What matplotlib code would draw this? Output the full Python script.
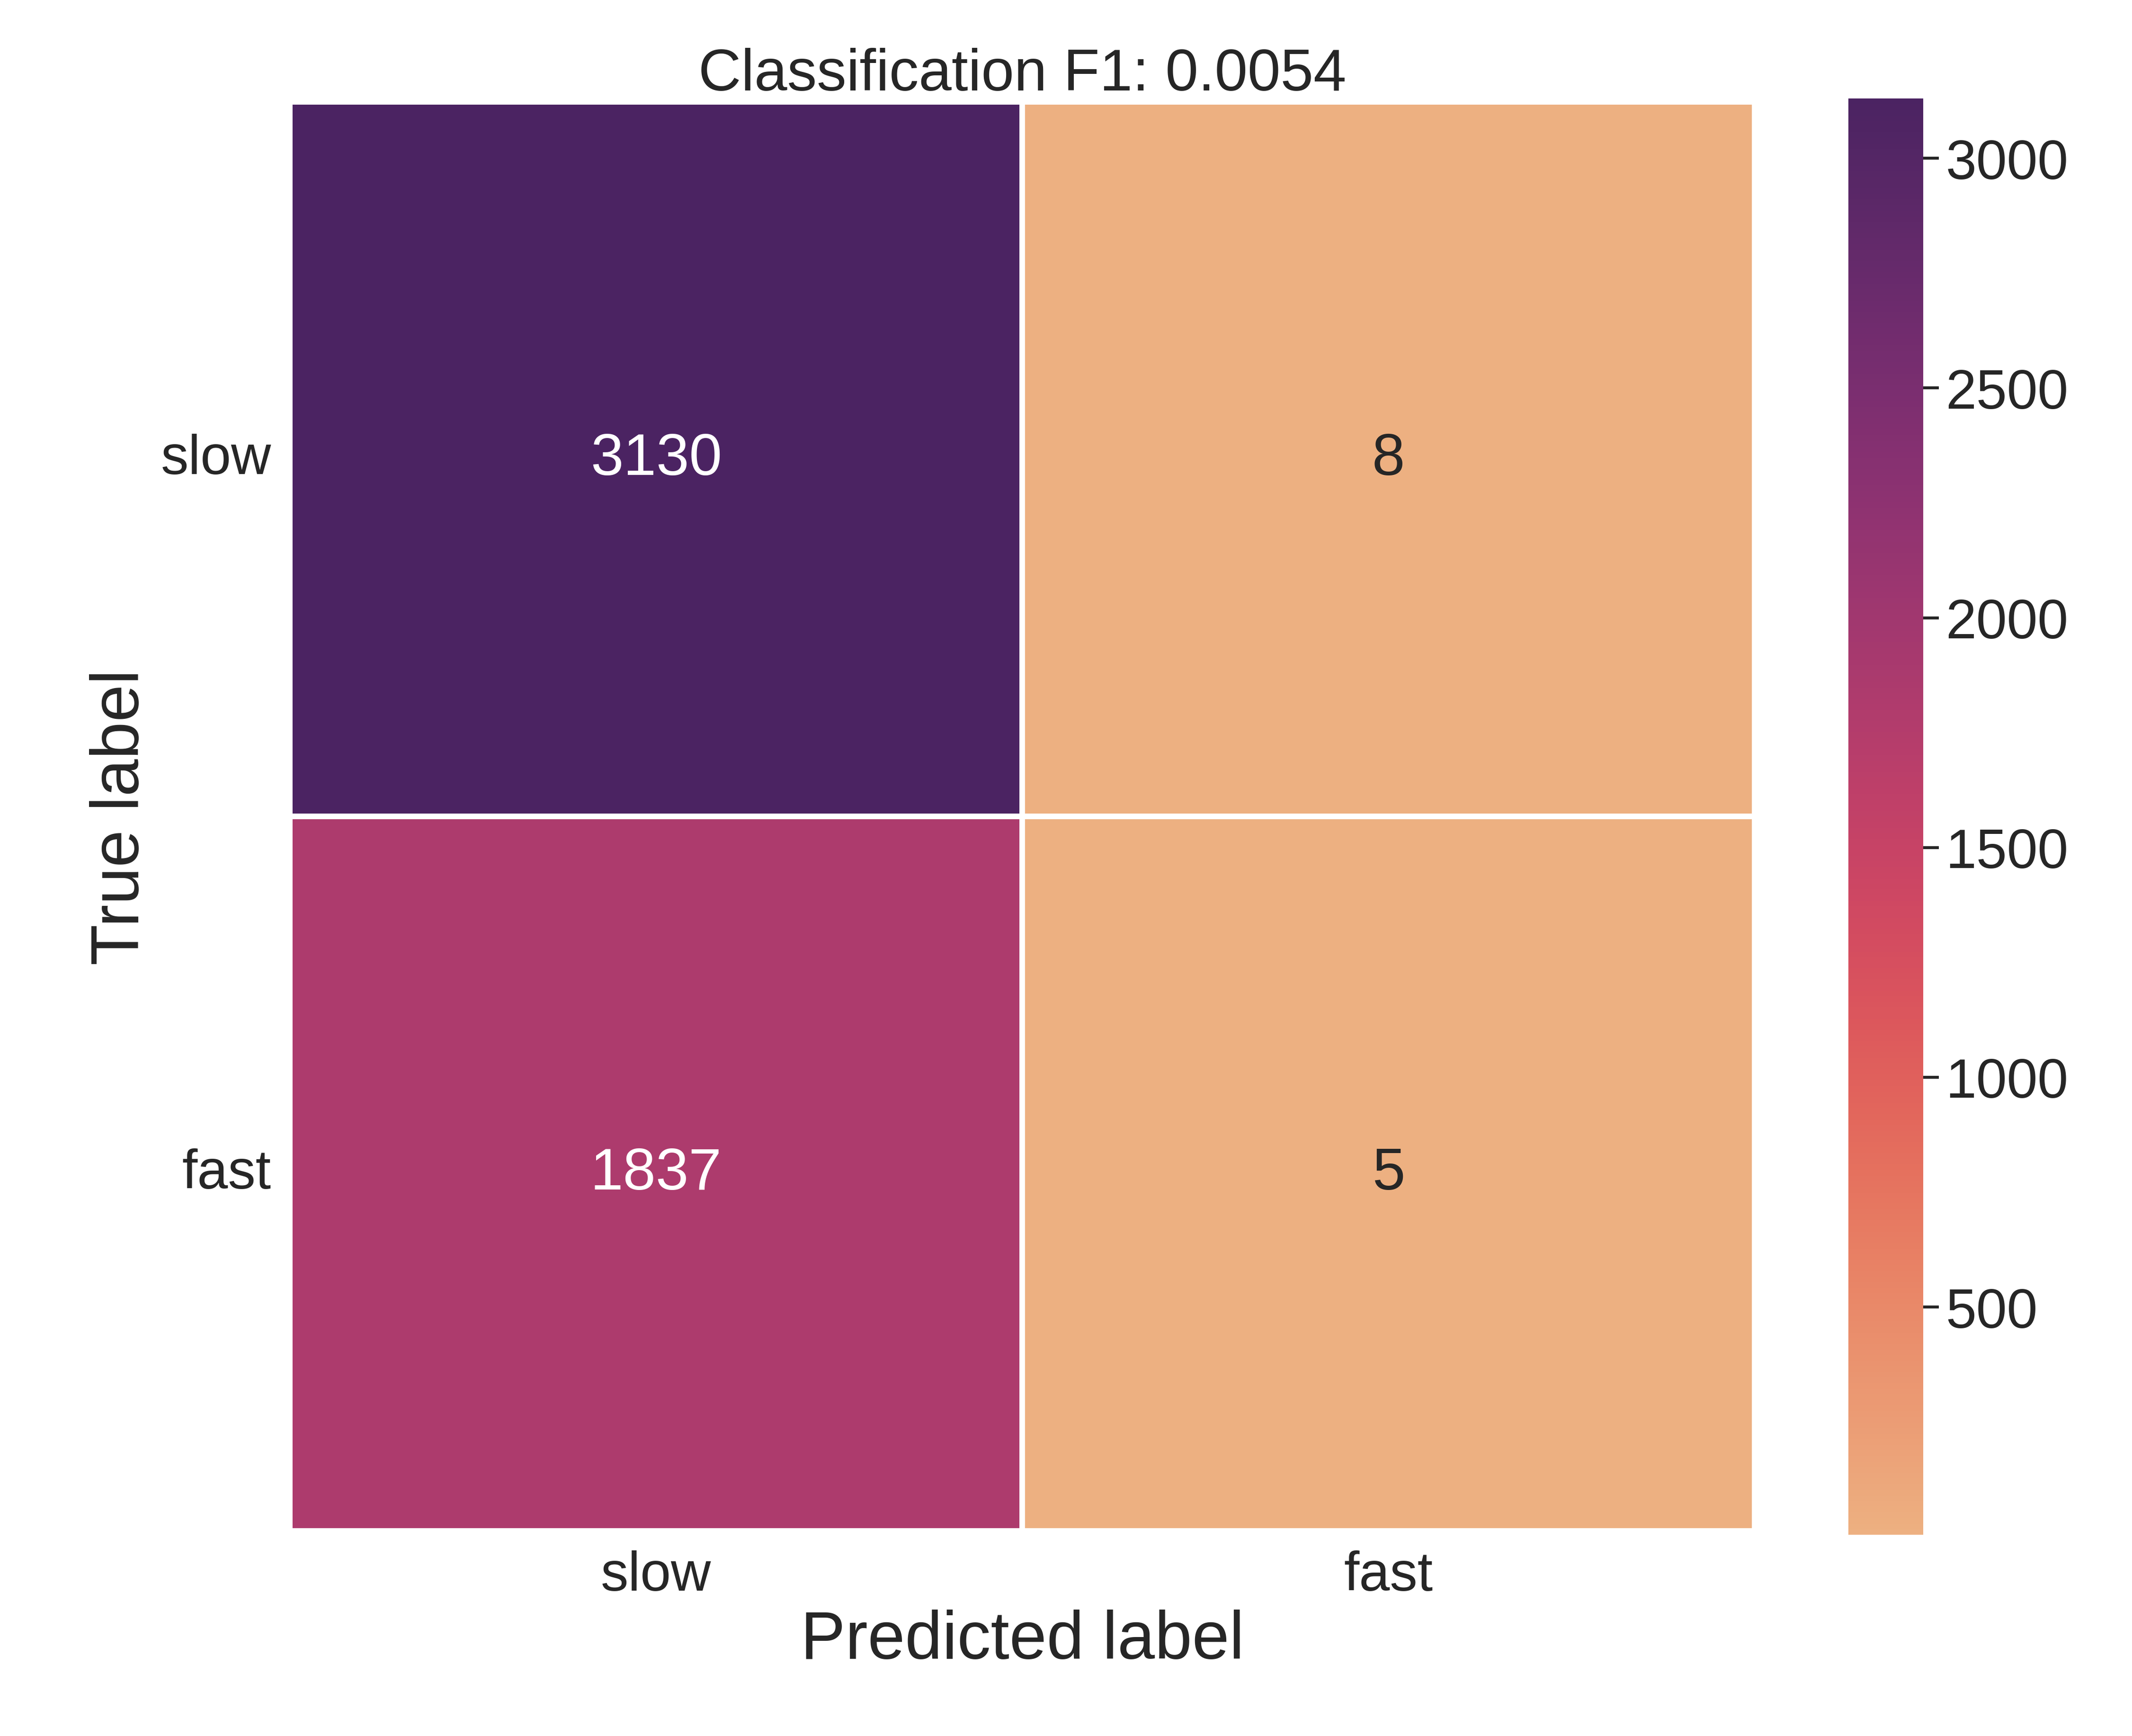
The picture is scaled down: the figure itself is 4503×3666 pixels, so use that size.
import numpy as np
import matplotlib
matplotlib.use("Agg")
import matplotlib.pyplot as plt
import seaborn as sns

labels = ["slow", "fast"]
counts = [[3130, 8],
          [1837, 5]]
f1 = 0.0054

sns.set_theme(style="white")
plt.rcParams['font.family'] = ['Liberation Sans', 'DejaVu Sans']

fig = plt.figure(figsize=(15.01, 12.223), dpi=300)
ax = fig.add_axes([0.136, 0.118, 0.687, 0.823])
cax = fig.add_axes([0.867, 0.116, 0.035, 0.827])

sns.heatmap(np.array(counts), annot=True, fmt="d", cmap="flare",
            linewidths=2.5, linecolor="white", ax=ax, cbar_ax=cax,
            xticklabels=labels, yticklabels=labels,
            annot_kws={"size": 30})

ax.set_title(f"Classification F1: {f1:.4f}", fontsize=30)
ax.set_xlabel("Predicted label", fontsize=34)
ax.set_ylabel("True label", fontsize=34)
ax.tick_params(labelsize=28)
ax.tick_params(axis="y", rotation=0)
cax.tick_params(labelsize=28, length=8, width=1.5, left=False, right=True)
cax.set_yticks([500, 1000, 1500, 2000, 2500, 3000])

fig.savefig("out.png", dpi=300)
